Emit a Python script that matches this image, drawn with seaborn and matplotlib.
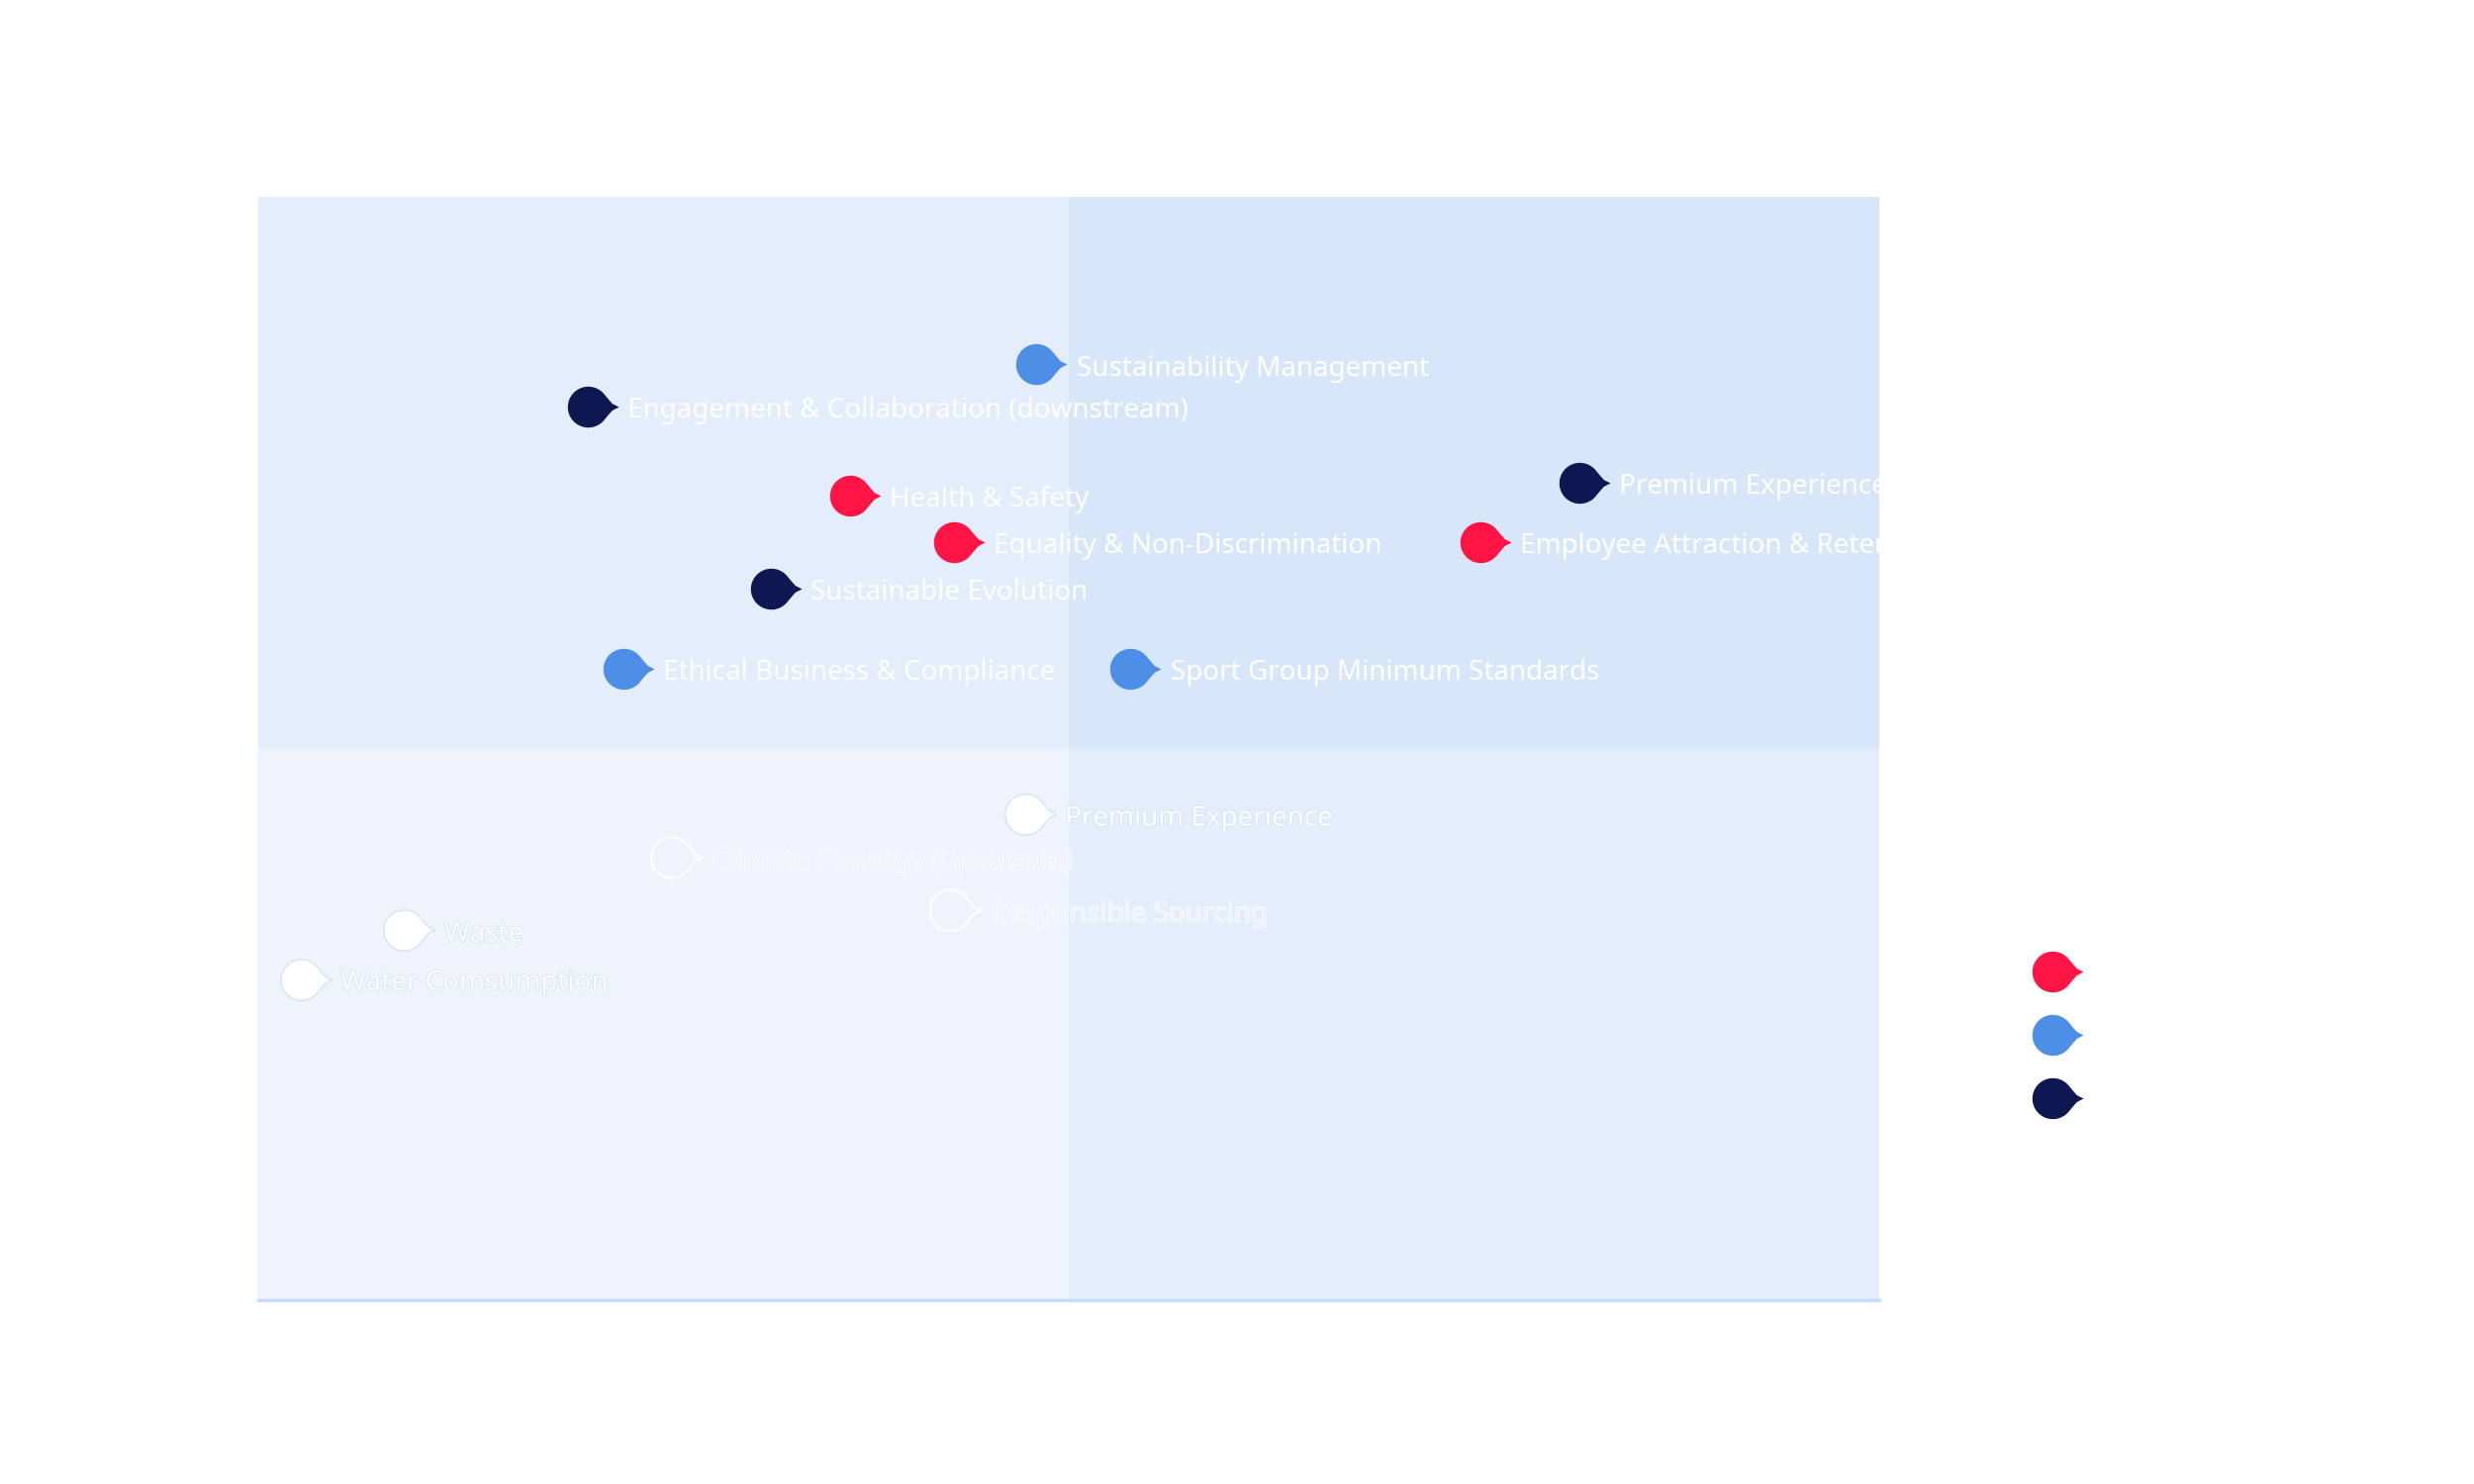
import numpy as np
import pandas as pd
import matplotlib
matplotlib.use("Agg")
import matplotlib.pyplot as plt
import matplotlib.patheffects as pe
from matplotlib.path import Path
from matplotlib.patches import Rectangle
from matplotlib.lines import Line2D
import seaborn as sns

# materiality topics (x = business impact, y = stakeholder relevance, scale 0-10)
topics = [
    "Sustainability Management",
    "Engagement & Collaboration (downstream)",
    "Premium Experience",
    "Health & Safety",
    "Equality & Non-Discrimination",
    "Employee Attraction & Retention",
    "Sustainable Evolution",
    "Ethical Business & Compliance",
    "Sport Group Minimum Standards",
    "Premium Experience",
    "Climate Strategy (upstream)",
    "Responsible Sourcing",
    "Waste",
    "Water Comsumption",
]
impact = [4.80, 2.03, 8.15, 3.65, 4.29, 7.54, 3.16, 2.25, 5.38, 4.73, 2.55, 4.27, 0.90, 0.26]
relevance = [8.48, 8.10, 7.41, 7.29, 6.87, 6.87, 6.45, 5.72, 5.72, 4.40, 4.01, 3.53, 3.35, 2.91]
group = ["Governance", "Product", "Product", "People", "People", "People", "Product",
         "Governance", "Governance", "Other", "Open", "Open", "Other", "Other"]

legend_groups = ["People", "Governance", "Product"]
group_colors = {"People": "#FF1446", "Governance": "#4D8EE6", "Product": "#0D1752"}

x_range = (0, 10)
y_range = (0, 10)
x_mid, y_mid = 5, 5
quadrant_colors = {"ll": "#EFF4FC", "lr": "#E3EDFB", "ul": "#E3EDFB", "ur": "#D7E6F8"}

df = pd.DataFrame({"topic": topics, "impact": impact, "relevance": relevance, "group": group})

# speech-bubble marker: circle with a small pointed tail on the right
ang = np.radians(np.linspace(38, 322, 60))
verts = list(zip(np.cos(ang), np.sin(ang)))
verts += [(1.0, -0.36), (1.18, -0.16), (1.5, 0.0), (1.18, 0.16), (1.0, 0.36), verts[0]]
bubble = Path(verts, closed=True)

sns.set_theme(style="white")
plt.rcParams["font.family"] = ["Noto Sans", "DejaVu Sans"]

fig = plt.figure(figsize=(25, 15), dpi=100)
ax = fig.add_axes([261 / 2500, 1 - 1314 / 1500, 1638 / 2500, 1115 / 1500])

# quadrant backgrounds
ax.add_patch(Rectangle((x_range[0], y_range[0]), x_mid - x_range[0], y_mid - y_range[0],
                       color=quadrant_colors["ll"], lw=0, zorder=0))
ax.add_patch(Rectangle((x_mid, y_range[0]), x_range[1] - x_mid, y_mid - y_range[0],
                       color=quadrant_colors["lr"], lw=0, zorder=0))
ax.add_patch(Rectangle((x_range[0], y_mid), x_mid - x_range[0], y_range[1] - y_mid,
                       color=quadrant_colors["ul"], lw=0, zorder=0))
ax.add_patch(Rectangle((x_mid, y_mid), x_range[1] - x_mid, y_range[1] - y_mid,
                       color=quadrant_colors["ur"], lw=0, zorder=0))

msize = 2000
for g, sub in df.groupby("group"):
    if g in group_colors:
        sns.scatterplot(data=sub, x="impact", y="relevance", ax=ax, marker=bubble,
                        s=msize, color=group_colors[g], linewidth=0, zorder=3, legend=False)
    elif g == "Other":
        sns.scatterplot(data=sub, x="impact", y="relevance", ax=ax, marker=bubble,
                        s=msize, color="white", edgecolor="#D3E2F7", linewidth=1.0,
                        zorder=3, legend=False)
    else:
        sns.scatterplot(data=sub, x="impact", y="relevance", ax=ax, marker=bubble,
                        s=msize, facecolor="none", edgecolor="white", linewidth=1.6,
                        zorder=3, legend=False)

for _, r in df.iterrows():
    if r["group"] in group_colors:
        kw = dict(color="white")
    elif r["group"] == "Other":
        kw = dict(color="white",
                  path_effects=[pe.Stroke(linewidth=1.2, foreground="#D3E2F7"), pe.Normal()])
    else:
        kw = dict(color=(0.93, 0.95, 0.99, 1.0),
                  path_effects=[pe.Stroke(linewidth=1.0, foreground="white"), pe.Normal()])
    ax.annotate(r["topic"], (r["impact"], r["relevance"]), xytext=(29, -3),
                textcoords="offset points", va="center", ha="left", fontsize=20,
                clip_on=True, zorder=4, **kw)

ax.set_xlim(*x_range)
ax.set_ylim(*y_range)
ax.set_xticks([])
ax.set_yticks([])
ax.set_xlabel("")
ax.set_ylabel("")
for side in ["top", "right"]:
    ax.spines[side].set_visible(False)
ax.spines["left"].set_color("#E3EDFB")
ax.spines["left"].set_linewidth(1)
ax.spines["bottom"].set_color("#C6DBF7")
ax.spines["bottom"].set_linewidth(2.5)

handles = [Line2D([], [], marker=bubble, linestyle="none", markersize=np.sqrt(msize),
                  markerfacecolor=group_colors[g], markeredgewidth=0) for g in legend_groups]
leg = ax.legend(handles, legend_groups, loc="upper left", bbox_to_anchor=(1.083, 0.318),
                frameon=False, fontsize=20, labelspacing=1.3, handletextpad=0.8,
                borderaxespad=0)
for t in leg.get_texts():
    t.set_color("white")

fig.savefig("out.png", dpi=100, facecolor="white")
